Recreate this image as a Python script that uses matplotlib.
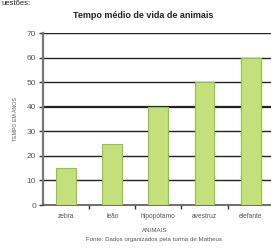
import matplotlib.pyplot as plt

animais = ['zebra', 'leão', 'hipopótamo', 'avestruz', 'elefante']
anos = [15, 25, 40, 50, 60]
y_ticks = [0, 10, 20, 30, 40, 50, 60, 70]

plt.rcParams['font.family'] = ['Liberation Sans', 'DejaVu Sans']

fig = plt.figure(figsize=(2.71, 2.48), dpi=100)
ax = fig.add_axes([43 / 271, 1 - 205 / 248, 1 - 43 / 271 + 0.01, (205 - 33) / 248])

x = list(range(len(animais)))
ax.bar(x, anos, width=0.43, color='#c4e07a', edgecolor='#8dc63f', linewidth=0.8, zorder=3)

ax.set_xlim(-0.5, 4.5)
ax.set_ylim(0, 70)
ax.set_yticks(y_ticks)
ax.set_yticklabels([str(v) for v in y_ticks], fontsize=6, color='#555555')
for v in y_ticks[1:]:
    lw = 1.6 if v == 40 else 1.0
    ax.axhline(v, color='#222222', linewidth=lw, zorder=1)

ax.set_xticks(x)
ax.set_xticklabels(animais, fontsize=4.8, color='#555555')
ax.tick_params(axis='x', length=0, pad=6)
ax.set_xticks([0.5, 1.5, 2.5, 3.5], minor=True)
ax.tick_params(axis='x', which='minor', length=3, width=1, color='#333333', direction='out')
ax.tick_params(axis='y', length=3, width=1, color='#333333', pad=2)

for s in ['top', 'right']:
    ax.spines[s].set_visible(False)
ax.spines['left'].set_color('#777777')
ax.spines['left'].set_linewidth(1.6)
ax.spines['bottom'].set_color('#555555')
ax.spines['bottom'].set_linewidth(1.2)

ax.set_ylabel('TEMPO EM ANOS', fontsize=3.8, color='#555555', labelpad=6)

fig.text(0.5 + 0.03, 1 - 15 / 248, 'Tempo médio de vida de animais', ha='center', va='center',
         fontsize=6.5, fontweight='bold', color='#222222')
fig.text(0.005, 0.998, 'uestões:', ha='left', va='top', fontsize=5.5, color='#222222')
fig.text(0.57, 1 - 230 / 248, 'ANIMAIS', ha='center', va='center', fontsize=4.4, color='#555555')
fig.text(0.57, 1 - 240 / 248, 'Fonte: Dados organizados pela turma de Matheus', ha='center', va='center',
         fontsize=4.4, color='#555555')

fig.savefig('out.png', dpi=100)
